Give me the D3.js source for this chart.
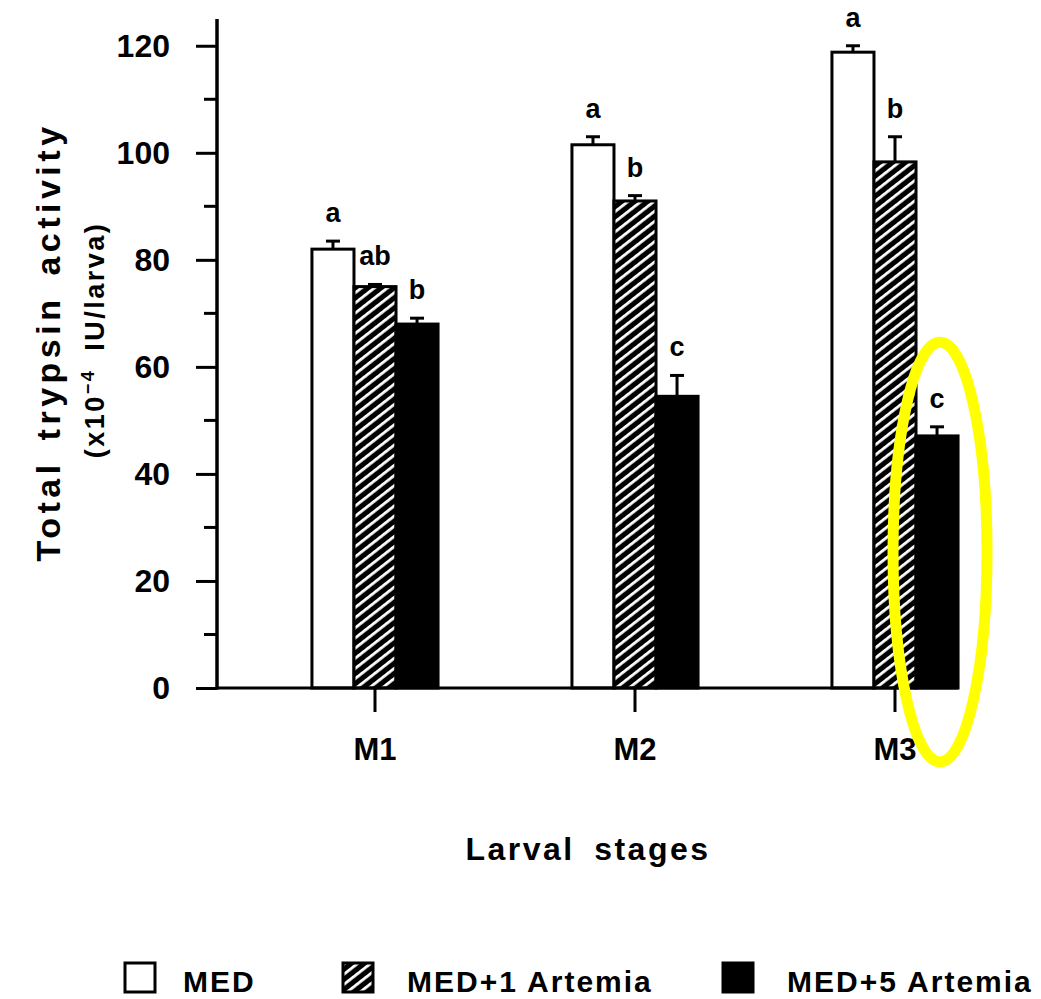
<!DOCTYPE html>
<meta charset="utf-8">
<head>
<style>
  body { margin: 0; background: #fff; }
  text { font-family: "Liberation Sans", Arial, sans-serif; font-weight: 700; fill: #000; }
  .tick-label { font-size: 32px; }
  .cat-label { font-size: 31px; }
  .sig { font-size: 27px; text-anchor: middle; }
  .legend-label { font-size: 30px; letter-spacing: 2px; }
</style>
</head>
<script src="https://d3js.org/d3.v7.min.js"></script>
<div id="chart"></div>
<script>
// data
const stages = ["M1", "M2", "M3"];
const series = ["MED", "MED+1 Artemia", "MED+5 Artemia"];
const medVals = [82, 101.5, 118.8];
const medErr = [1.5, 1.5, 1.2];
const med1Vals = [75, 91, 98.3];
const med1Err = [0.4, 1, 4.7];
const med5Vals = [68, 54.5, 47.1];
const med5Err = [1.1, 3.9, 1.7];
const medSig = ["a", "a", "a"];
const med1Sig = ["ab", "b", "b"];
const med5Sig = ["b", "c", "c"];
const majorTicks = [0, 20, 40, 60, 80, 100, 120];
const minorTicks = [10, 30, 50, 70, 90, 110];

const W = 1041, H = 999;

const svg = d3.select("#chart").append("svg")
    .attr("width", W).attr("height", H);

const defs = svg.append("defs");
const pat = defs.append("pattern")
    .attr("id", "hatch")
    .attr("patternUnits", "userSpaceOnUse")
    .attr("width", 8).attr("height", 8)
    .attr("patternTransform", "rotate(-38)");
pat.append("rect").attr("width", 8).attr("height", 8).attr("fill", "#000");
pat.append("rect").attr("y", 0).attr("width", 8).attr("height", 2.8).attr("fill", "#fff");

const fills = { "MED": "#fff", "MED+1 Artemia": "url(#hatch)", "MED+5 Artemia": "#000" };

// scales
const y = d3.scaleLinear().domain([0, 125]).range([688, 19]);
const x0 = d3.scaleBand().domain(stages).range([245, 1025])
    .paddingInner(0.515).paddingOuter(0.2575);
const x1 = d3.scaleBand().domain(series).range([0, x0.bandwidth()]);

const rows = [];
stages.forEach((s, i) => {
  rows.push({ stage: s, series: series[0], v: medVals[i], e: medErr[i], sig: medSig[i] });
  rows.push({ stage: s, series: series[1], v: med1Vals[i], e: med1Err[i], sig: med1Sig[i] });
  rows.push({ stage: s, series: series[2], v: med5Vals[i], e: med5Err[i], sig: med5Sig[i] });
});

const axisLeft = 217;

// bars
svg.append("g").selectAll("rect")
  .data(rows).join("rect")
    .attr("x", d => x0(d.stage) + x1(d.series))
    .attr("y", d => y(d.v))
    .attr("width", x1.bandwidth())
    .attr("height", d => y(0) - y(d.v))
    .attr("fill", d => fills[d.series])
    .attr("stroke", "#000")
    .attr("stroke-width", 3);

// error bars (upper only)
const eb = svg.append("g").attr("stroke", "#000").attr("stroke-width", 3);
rows.forEach(d => {
  const cx = x0(d.stage) + x1(d.series) + x1.bandwidth() / 2;
  eb.append("line").attr("x1", cx).attr("x2", cx).attr("y1", y(d.v)).attr("y2", y(d.v + d.e));
  eb.append("line").attr("x1", cx - 7).attr("x2", cx + 7).attr("y1", y(d.v + d.e)).attr("y2", y(d.v + d.e));
});

// significance letters
svg.append("g").selectAll("text")
  .data(rows).join("text")
    .attr("class", "sig")
    .attr("x", d => x0(d.stage) + x1(d.series) + x1.bandwidth() / 2)
    .attr("y", d => y(d.v + d.e) - 19)
    .text(d => d.sig);

// y axis
const yAxis = svg.append("g")
    .attr("transform", `translate(${axisLeft},0)`)
    .call(d3.axisLeft(y).tickValues(majorTicks).tickSize(21).tickPadding(26)
      .tickFormat(d3.format("d")));
yAxis.select(".domain").remove();
yAxis.selectAll(".tick line").attr("stroke-width", 3);
yAxis.selectAll(".tick text").attr("class", "tick-label").attr("font-size", null).attr("font-family", null);
yAxis.append("g").selectAll("line")
  .data(minorTicks).join("line")
    .attr("x1", -13).attr("x2", 0)
    .attr("y1", d => y(d)).attr("y2", d => y(d))
    .attr("stroke", "#000").attr("stroke-width", 3);
yAxis.append("line")
    .attr("x1", 0).attr("x2", 0)
    .attr("y1", y(0) + 1.5).attr("y2", y(125))
    .attr("stroke", "#000").attr("stroke-width", 3.5);

// x axis
const xAxis = svg.append("g")
    .attr("transform", `translate(0,${y(0)})`)
    .call(d3.axisBottom(x0).tickSize(24).tickPadding(26));
xAxis.select(".domain").remove();
xAxis.selectAll(".tick line").attr("stroke-width", 3);
xAxis.selectAll(".tick text").attr("class", "cat-label").attr("font-size", null).attr("font-family", null);
xAxis.append("line")
    .attr("x1", axisLeft).attr("x2", x0("M3") + x0.bandwidth())
    .attr("y1", 0).attr("y2", 0)
    .attr("stroke", "#000").attr("stroke-width", 3);

// axis titles
svg.append("text")
    .attr("transform", "translate(60,342) rotate(-90)")
    .attr("text-anchor", "middle")
    .attr("font-size", 34)
    .attr("letter-spacing", 4.5)
    .attr("word-spacing", 6)
    .text("Total trypsin activity");
const sub = svg.append("text")
    .attr("transform", "translate(104,340) rotate(-90)")
    .attr("text-anchor", "middle")
    .attr("font-size", 27)
    .attr("letter-spacing", 2.5);
sub.append("tspan").text("(x10");
sub.append("tspan").attr("dy", -10).attr("font-size", 18).text("\u22124");
sub.append("tspan").attr("dy", 10).attr("word-spacing", 8).text(" IU/larva)");

svg.append("text")
    .attr("x", 588).attr("y", 860)
    .attr("text-anchor", "middle")
    .attr("font-size", 32)
    .attr("letter-spacing", 2.5)
    .attr("word-spacing", 8)
    .text("Larval stages");

// legend
const legendX = [125, 343, 723];
const lg = svg.append("g").selectAll("g")
  .data(series).join("g")
    .attr("transform", (d, i) => `translate(${legendX[i]},963)`);
lg.append("rect")
    .attr("width", 30).attr("height", 29)
    .attr("fill", d => fills[d])
    .attr("stroke", "#000").attr("stroke-width", 3);
lg.append("text")
    .attr("class", "legend-label")
    .attr("x", (d, i) => i === 0 ? 58 : 64)
    .attr("y", 29)
    .text(d => d);

// highlight ellipse around M3 / MED+5 Artemia
const hx = x0("M3") + x1("MED+5 Artemia") + x1.bandwidth() / 2 + 3;
const hTop = y(64.6), hBot = y(-13.8);
svg.append("ellipse")
    .attr("cx", hx).attr("cy", (hTop + hBot) / 2)
    .attr("rx", 47).attr("ry", (hBot - hTop) / 2)
    .attr("fill", "none")
    .attr("stroke", "#ffff00")
    .attr("stroke-width", 11);
</script>
